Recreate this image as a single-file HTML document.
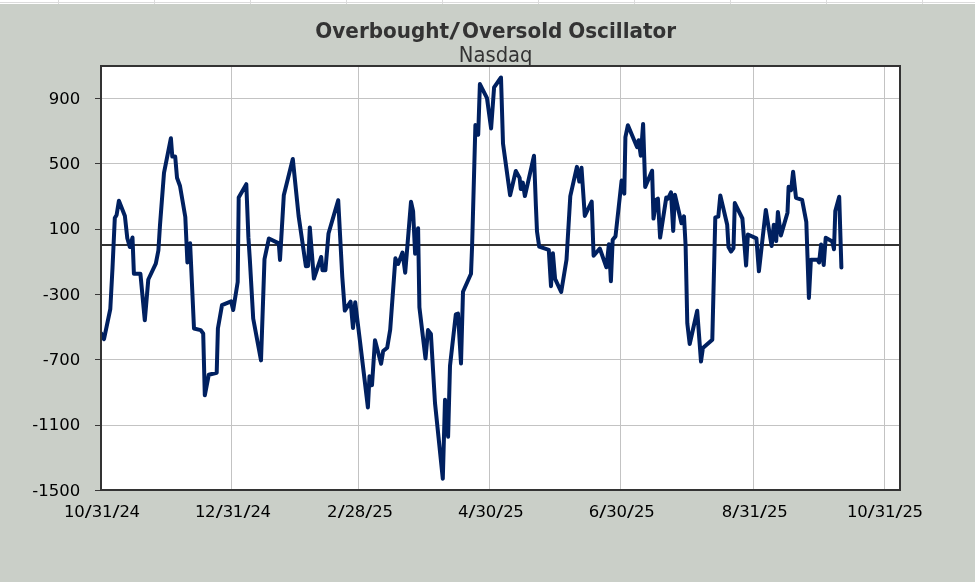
<!DOCTYPE html>
<html lang="en">
<head>
<meta charset="utf-8">
<title>Overbought/Oversold Oscillator - Nasdaq</title>
<style>
html,body{margin:0;padding:0;background:#cacfc8;}
body{width:975px;height:582px;overflow:hidden;position:relative;font-family:"DejaVu Sans","Liberation Sans",sans-serif;}
svg{position:absolute;left:0;top:0;display:block;}
.lbl{font-family:"DejaVu Sans","Liberation Sans",sans-serif;font-size:16.5px;fill:#000;}
.xl{letter-spacing:-0.4px;}
.title{font-family:"DejaVu Sans","Liberation Sans",sans-serif;font-weight:bold;font-size:20px;fill:#333;}
.sub{font-family:"DejaVu Sans","Liberation Sans",sans-serif;font-size:19.6px;fill:#333;}
</style>
</head>
<body>
<svg width="975" height="582" viewBox="0 0 975 582">
<rect x="0" y="0" width="975" height="582" fill="#cacfc8"/>
<!-- spreadsheet strip -->
<g shape-rendering="crispEdges">
<rect x="0" y="0" width="975" height="4" fill="#ffffff"/>
<rect x="0" y="2" width="975" height="1" fill="#dcdcdc"/>
<rect x="58" y="0" width="1" height="4" fill="#dcdcdc"/>
<rect x="154" y="0" width="1" height="4" fill="#dcdcdc"/>
<rect x="250" y="0" width="1" height="4" fill="#dcdcdc"/>
<rect x="346" y="0" width="1" height="4" fill="#dcdcdc"/>
<rect x="442" y="0" width="1" height="4" fill="#dcdcdc"/>
<rect x="538" y="0" width="1" height="4" fill="#dcdcdc"/>
<rect x="634" y="0" width="1" height="4" fill="#dcdcdc"/>
<rect x="730" y="0" width="1" height="4" fill="#dcdcdc"/>
<rect x="826" y="0" width="1" height="4" fill="#dcdcdc"/>
<rect x="922" y="0" width="1" height="4" fill="#dcdcdc"/>
</g>
<text class="title" transform="translate(0,38) scale(1,1.035)" y="0"><tspan x="315.3">Overbought</tspan><tspan x="449.3" textLength="10.8" lengthAdjust="spacingAndGlyphs">/</tspan><tspan x="462.1">Oversold </tspan><tspan x="568.2">Oscillator</tspan></text>
<text class="sub" transform="translate(458.8,62) scale(1,1.045)" x="0" y="0">Nasdaq</text>
<rect x="101" y="66" width="799" height="424" fill="#ffffff"/>
<g shape-rendering="crispEdges">
<rect x="101" y="98" width="799" height="1" fill="#c3c3c3"/>
<rect x="101" y="163" width="799" height="1" fill="#c3c3c3"/>
<rect x="101" y="229" width="799" height="1" fill="#c3c3c3"/>
<rect x="101" y="294" width="799" height="1" fill="#c3c3c3"/>
<rect x="101" y="359" width="799" height="1" fill="#c3c3c3"/>
<rect x="101" y="425" width="799" height="1" fill="#c3c3c3"/>
<rect x="231" y="66" width="1" height="424" fill="#c3c3c3"/>
<rect x="358" y="66" width="1" height="424" fill="#c3c3c3"/>
<rect x="489" y="66" width="1" height="424" fill="#c3c3c3"/>
<rect x="620" y="66" width="1" height="424" fill="#c3c3c3"/>
<rect x="753" y="66" width="1" height="424" fill="#c3c3c3"/>
<rect x="884" y="66" width="1" height="424" fill="#c3c3c3"/>
<rect x="101" y="244" width="799" height="2" fill="#333"/>
<rect x="95" y="98" width="6" height="1" fill="#383838"/>
<rect x="95" y="163" width="6" height="1" fill="#383838"/>
<rect x="95" y="229" width="6" height="1" fill="#383838"/>
<rect x="95" y="294" width="6" height="1" fill="#383838"/>
<rect x="95" y="359" width="6" height="1" fill="#383838"/>
<rect x="95" y="425" width="6" height="1" fill="#383838"/>
<rect x="95" y="490" width="6" height="1" fill="#383838"/>
</g>
<clipPath id="plotclip"><rect x="101" y="66" width="799" height="424"/></clipPath>
<polyline clip-path="url(#plotclip)" points="101.3,333.5 104.0,339.2 110.3,309.0 112.5,268.0 114.8,218.1 116.6,215.0 118.9,200.7 124.9,216.1 127.3,238.3 129.8,247.0 132.5,237.5 133.9,273.7 140.4,273.7 144.8,320.3 148.3,279.5 155.8,263.7 158.4,250.4 160.0,225.0 164.0,172.8 170.9,138.2 172.3,156.6 175.2,156.6 177.0,177.7 180.0,186.0 185.3,217.0 187.4,262.5 190.1,243.2 194.0,328.5 200.6,330.1 203.2,333.4 204.8,395.3 208.8,374.7 216.7,372.7 217.9,328.5 222.0,305.1 231.1,301.4 233.2,310.0 237.7,282.0 238.7,197.5 246.3,184.2 248.4,237.4 249.9,260.7 253.2,318.5 261.0,360.4 264.5,259.1 268.9,238.5 278.8,243.4 280.0,259.9 283.8,195.3 292.8,159.0 298.6,215.9 305.9,266.3 308.1,266.0 309.8,227.4 313.9,278.6 321.2,257.0 322.5,270.3 325.4,270.3 328.5,233.5 338.2,200.2 342.3,277.2 344.8,310.6 350.6,301.6 353.0,328.1 355.2,302.3 360.5,345.5 367.9,407.5 369.5,376.2 372.0,385.1 375.0,340.2 381.1,363.7 383.2,351.0 387.2,347.7 390.2,329.7 395.4,258.3 398.1,264.0 402.5,252.5 405.2,272.7 411.0,201.8 413.1,211.3 415.1,253.7 418.1,228.2 419.4,307.3 425.5,358.5 428.0,330.1 430.9,334.0 435.0,403.0 442.8,478.8 445.0,399.7 448.1,436.7 450.0,366.0 455.8,314.4 458.0,313.6 461.0,363.4 463.0,291.7 471.0,273.8 472.1,245.8 475.4,125.1 478.2,134.8 479.9,84.1 487.0,98.2 491.1,128.4 494.1,87.4 501.0,77.5 503.0,143.5 510.1,195.3 515.8,171.0 519.6,177.9 520.8,189.0 522.8,182.6 524.9,196.1 534.0,155.7 535.9,206.0 537.0,231.5 539.2,246.6 548.8,249.9 551.0,286.2 552.9,253.2 555.1,278.8 561.2,292.0 566.5,259.8 570.3,196.1 576.9,166.9 579.3,181.6 581.5,167.7 584.8,215.9 591.7,201.5 593.6,255.7 599.8,248.5 606.4,267.3 608.9,244.3 610.9,281.2 612.7,239.7 615.5,236.4 621.6,180.6 624.3,193.6 625.4,137.2 627.9,125.2 637.0,147.1 638.6,140.2 640.8,155.7 643.1,123.9 645.2,186.9 652.1,170.7 653.5,218.6 656.4,199.6 657.9,198.6 660.1,237.6 666.3,197.4 667.9,198.8 671.0,192.3 673.2,231.0 674.9,194.8 681.5,223.2 684.0,216.3 685.6,245.5 687.3,323.2 689.7,344.0 697.2,310.7 701.0,361.5 702.9,348.0 712.3,339.7 715.3,217.4 718.3,216.6 720.3,195.4 727.2,224.8 728.5,247.1 731.0,251.6 733.5,248.0 734.8,203.1 742.4,218.5 746.1,265.5 747.9,234.5 756.4,238.3 758.9,271.3 765.8,209.9 771.6,246.0 773.8,224.7 776.2,241.1 777.9,211.9 780.9,235.4 787.5,212.7 788.6,186.8 791.1,190.1 793.1,171.8 796.0,197.8 802.1,199.8 806.3,221.8 808.9,298.0 810.9,259.7 817.5,259.7 819.1,262.5 821.1,244.5 823.7,265.0 825.7,237.8 832.3,241.6 834.0,249.3 835.3,211.0 839.2,196.8 841.4,267.5" fill="none" stroke="#002060" stroke-width="4" stroke-linejoin="round" stroke-linecap="round"/>
<rect x="101" y="66" width="799" height="424" fill="none" stroke="#333" stroke-width="2" shape-rendering="crispEdges"/>
<text class="lbl" x="80.2" y="103.7" text-anchor="end">900</text>
<text class="lbl" x="80.2" y="168.8" text-anchor="end">500</text>
<text class="lbl" x="80.2" y="233.8" text-anchor="end">100</text>
<text class="lbl" x="80.2" y="299.7" text-anchor="end">-300</text>
<text class="lbl" x="80.2" y="364.7" text-anchor="end">-700</text>
<text class="lbl" x="80.2" y="429.8" text-anchor="end">-1100</text>
<text class="lbl" x="80.2" y="495.7" text-anchor="end">-1500</text>
<text class="lbl xl" x="101.9" y="517" text-anchor="middle">10<tspan dx="0.5" textLength="6.5" lengthAdjust="spacingAndGlyphs">/</tspan><tspan dx="0.5">31</tspan><tspan dx="0.5" textLength="6.5" lengthAdjust="spacingAndGlyphs">/</tspan><tspan dx="0.5">24</tspan></text>
<text class="lbl xl" x="232.8" y="517" text-anchor="middle">12<tspan dx="0.5" textLength="6.5" lengthAdjust="spacingAndGlyphs">/</tspan><tspan dx="0.5">31</tspan><tspan dx="0.5" textLength="6.5" lengthAdjust="spacingAndGlyphs">/</tspan><tspan dx="0.5">24</tspan></text>
<text class="lbl xl" x="359.8" y="517" text-anchor="middle">2<tspan dx="0.5" textLength="6.5" lengthAdjust="spacingAndGlyphs">/</tspan><tspan dx="0.5">28</tspan><tspan dx="0.5" textLength="6.5" lengthAdjust="spacingAndGlyphs">/</tspan><tspan dx="0.5">25</tspan></text>
<text class="lbl xl" x="490.7" y="517" text-anchor="middle">4<tspan dx="0.5" textLength="6.5" lengthAdjust="spacingAndGlyphs">/</tspan><tspan dx="0.5">30</tspan><tspan dx="0.5" textLength="6.5" lengthAdjust="spacingAndGlyphs">/</tspan><tspan dx="0.5">25</tspan></text>
<text class="lbl xl" x="621.5" y="517" text-anchor="middle">6<tspan dx="0.5" textLength="6.5" lengthAdjust="spacingAndGlyphs">/</tspan><tspan dx="0.5">30</tspan><tspan dx="0.5" textLength="6.5" lengthAdjust="spacingAndGlyphs">/</tspan><tspan dx="0.5">25</tspan></text>
<text class="lbl xl" x="754.5" y="517" text-anchor="middle">8<tspan dx="0.5" textLength="6.5" lengthAdjust="spacingAndGlyphs">/</tspan><tspan dx="0.5">31</tspan><tspan dx="0.5" textLength="6.5" lengthAdjust="spacingAndGlyphs">/</tspan><tspan dx="0.5">25</tspan></text>
<text class="lbl xl" x="884.9" y="517" text-anchor="middle">10<tspan dx="0.5" textLength="6.5" lengthAdjust="spacingAndGlyphs">/</tspan><tspan dx="0.5">31</tspan><tspan dx="0.5" textLength="6.5" lengthAdjust="spacingAndGlyphs">/</tspan><tspan dx="0.5">25</tspan></text>
</svg>
</body>
</html>
